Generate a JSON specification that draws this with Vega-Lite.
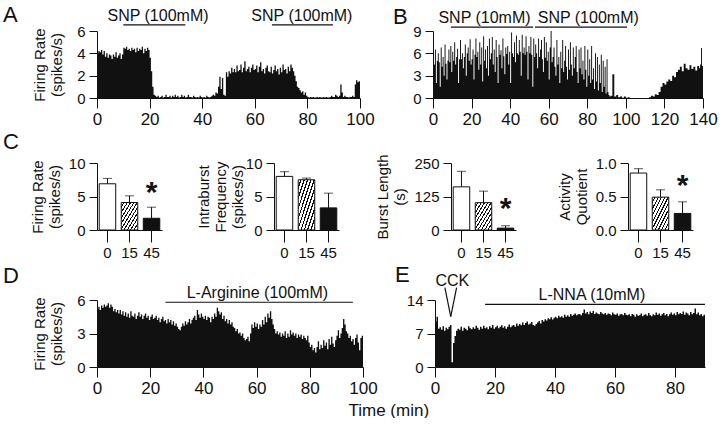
{
"$schema": "https://vega.github.io/schema/vega-lite/v6.json",
"background": "white",
"padding": {"left": 3, "top": 4, "right": 0, "bottom": 0},
"spacing": 4,
"config": {
 "font": "Liberation Sans",
 "view": {"stroke": null},
 "axis": {"grid": false, "labelOverlap": false, "labelFlush": false, "domainColor": "#111", "tickColor": "#111", "labelColor": "#111", "titleColor": "#111", "labelFont": "Liberation Sans", "titleFont": "Liberation Sans", "titleFontWeight": "normal", "titleFontSize": 15, "labelFontSize": 15, "tickSize": 8, "labelPadding": 4, "titlePadding": 6},
 "axisX": {"labelFontSize": 17, "tickSize": 10, "labelPadding": 3, "labelAngle": 0, "labelFlush": false},
 "title": {"font": "Liberation Sans", "fontWeight": "normal", "fontSize": 22, "color": "#111", "anchor": "start", "frame": "group"},
 "text": {"font": "Liberation Sans", "color": "#111"}
},
"vconcat": [
{"hconcat": [
 {"width": 263, "height": 67, "title": {"text": "A", "dx": -94, "offset": -19},
  "layer": [
   {"data": {"values": [{"t":0,"v":4.0},{"t":0.5,"v":4.2},{"t":1,"v":4.1},{"t":1.5,"v":4.3},{"t":2,"v":3.9},{"t":2.5,"v":4.2},{"t":3,"v":3.7},{"t":3.5,"v":4.0},{"t":4,"v":3.6},{"t":4.5,"v":3.9},{"t":5,"v":3.8},{"t":5.5,"v":3.5},{"t":6,"v":3.9},{"t":6.5,"v":3.7},{"t":7,"v":4.1},{"t":7.5,"v":3.6},{"t":8,"v":3.8},{"t":8.5,"v":4.0},{"t":9,"v":3.5},{"t":9.5,"v":3.9},{"t":10,"v":4.5},{"t":10.5,"v":4.4},{"t":11,"v":4.6},{"t":11.5,"v":4.3},{"t":12,"v":4.4},{"t":12.5,"v":4.2},{"t":13,"v":4.5},{"t":13.5,"v":4.3},{"t":14,"v":4.4},{"t":14.5,"v":4.1},{"t":15,"v":4.5},{"t":15.5,"v":4.2},{"t":16,"v":4.4},{"t":16.5,"v":4.3},{"t":17,"v":4.6},{"t":17.5,"v":4.0},{"t":18,"v":4.4},{"t":18.5,"v":4.2},{"t":19,"v":4.5},{"t":19.5,"v":4.3},{"t":20,"v":3.6},{"t":20.5,"v":2.4},{"t":21,"v":1.0},{"t":21.5,"v":0.3},{"t":22,"v":0.2},{"t":22.5,"v":0.1},{"t":23,"v":0.2},{"t":23.5,"v":0.05},{"t":24,"v":0.1},{"t":24.5,"v":0.2},{"t":25,"v":0.05},{"t":25.5,"v":0.1},{"t":26,"v":0.3},{"t":26.5,"v":0.1},{"t":27,"v":0.1},{"t":27.5,"v":0.2},{"t":28,"v":0.05},{"t":28.5,"v":0.2},{"t":29,"v":0.1},{"t":29.5,"v":0.3},{"t":30,"v":0.1},{"t":30.5,"v":0.2},{"t":31,"v":0.05},{"t":31.5,"v":0.1},{"t":32,"v":0.3},{"t":32.5,"v":0.1},{"t":33,"v":0.2},{"t":33.5,"v":0.05},{"t":34,"v":0.1},{"t":34.5,"v":0.3},{"t":35,"v":0.1},{"t":35.5,"v":0.1},{"t":36,"v":0.05},{"t":36.5,"v":0.2},{"t":37,"v":0.1},{"t":37.5,"v":0.05},{"t":38,"v":0.1},{"t":38.5,"v":0.05},{"t":39,"v":0.2},{"t":39.5,"v":0.1},{"t":40,"v":0.05},{"t":40.5,"v":0.1},{"t":41,"v":0.05},{"t":41.5,"v":0.2},{"t":42,"v":0.1},{"t":42.5,"v":0.05},{"t":43,"v":0.1},{"t":43.5,"v":0.2},{"t":44,"v":0.3},{"t":44.5,"v":0.2},{"t":45,"v":0.5},{"t":45.5,"v":0.4},{"t":46,"v":1.0},{"t":46.5,"v":1.9},{"t":47,"v":0.8},{"t":47.5,"v":1.8},{"t":48,"v":0.3},{"t":48.5,"v":0.2},{"t":49,"v":2.3},{"t":49.5,"v":1.9},{"t":50,"v":2.4},{"t":50.5,"v":2.2},{"t":51,"v":2.7},{"t":51.5,"v":2.3},{"t":52,"v":2.6},{"t":52.5,"v":2.3},{"t":53,"v":2.9},{"t":53.5,"v":2.4},{"t":54,"v":2.5},{"t":54.5,"v":3.0},{"t":55,"v":2.3},{"t":55.5,"v":2.7},{"t":56,"v":3.3},{"t":56.5,"v":2.4},{"t":57,"v":2.6},{"t":57.5,"v":2.8},{"t":58,"v":2.3},{"t":58.5,"v":2.7},{"t":59,"v":3.0},{"t":59.5,"v":2.5},{"t":60,"v":2.6},{"t":60.5,"v":2.9},{"t":61,"v":2.3},{"t":61.5,"v":2.8},{"t":62,"v":3.2},{"t":62.5,"v":2.4},{"t":63,"v":2.6},{"t":63.5,"v":2.2},{"t":64,"v":2.7},{"t":64.5,"v":2.9},{"t":65,"v":2.4},{"t":65.5,"v":2.3},{"t":66,"v":2.8},{"t":66.5,"v":2.2},{"t":67,"v":2.5},{"t":67.5,"v":2.9},{"t":68,"v":2.4},{"t":68.5,"v":2.6},{"t":69,"v":2.1},{"t":69.5,"v":2.7},{"t":70,"v":2.3},{"t":70.5,"v":3.0},{"t":71,"v":2.5},{"t":71.5,"v":2.6},{"t":72,"v":2.2},{"t":72.5,"v":2.8},{"t":73,"v":2.4},{"t":73.5,"v":3.0},{"t":74,"v":2.7},{"t":74.5,"v":2.4},{"t":75,"v":2.0},{"t":75.5,"v":1.5},{"t":76,"v":1.0},{"t":76.5,"v":0.9},{"t":77,"v":0.7},{"t":77.5,"v":0.5},{"t":78,"v":0.6},{"t":78.5,"v":0.3},{"t":79,"v":0.5},{"t":79.5,"v":0.2},{"t":80,"v":0.1},{"t":80.5,"v":0.05},{"t":81,"v":0.1},{"t":81.5,"v":0.05},{"t":82,"v":0.1},{"t":82.5,"v":0.05},{"t":83,"v":0.05},{"t":83.5,"v":0.1},{"t":84,"v":0.05},{"t":84.5,"v":0.1},{"t":85,"v":0.05},{"t":85.5,"v":0.05},{"t":86,"v":0.1},{"t":86.5,"v":0.05},{"t":87,"v":0.1},{"t":87.5,"v":0.05},{"t":88,"v":0.05},{"t":88.5,"v":0.1},{"t":89,"v":0.2},{"t":89.5,"v":0.1},{"t":90,"v":0.1},{"t":90.5,"v":0.3},{"t":91,"v":0.2},{"t":91.5,"v":0.1},{"t":92,"v":0.2},{"t":92.5,"v":1.2},{"t":93,"v":0.5},{"t":93.5,"v":0.1},{"t":94,"v":0.2},{"t":94.5,"v":0.1},{"t":95,"v":0.1},{"t":95.5,"v":0.05},{"t":96,"v":0.1},{"t":96.5,"v":0.1},{"t":97,"v":0.2},{"t":97.5,"v":0.1},{"t":98,"v":1.2},{"t":98.5,"v":1.6},{"t":99,"v":1.4},{"t":99.5,"v":1.5},{"t":100,"v":1.5}]},
    "mark": {"type": "area", "interpolate": "step-after", "color": "#111"},
    "encoding": {
     "x": {"field": "t", "type": "quantitative", "title": null, "scale": {"domain": [0, 100], "nice": false, "zero": false}, "axis": {"values": [0, 20, 40, 60, 80, 100], "tickCount": 20, "format": "d", "labelFlush": false}},
     "y": {"field": "v", "type": "quantitative", "title": ["Firing Rate", "(spikes/s)"], "scale": {"domain": [0, 6], "nice": false}, "axis": {"values": [0, 2, 4, 6], "tickCount": 20, "format": "d", "titlePadding": 12}}}},
   {"data": {"values": [{"a": 10, "b": 33.6, "y": 6.54}, {"a": 66.5, "b": 89.7, "y": 6.54}]},
    "mark": {"type": "rule", "color": "#111", "strokeWidth": 1.2},
    "encoding": {"x": {"field": "a", "type": "quantitative", "title": null}, "x2": {"field": "b"}, "y": {"field": "y", "type": "quantitative", "title": ["Firing Rate", "(spikes/s)"]}}},
   {"data": {"values": [{"x": 23.2, "y": 7.34, "s": "SNP (100mM)"}, {"x": 77.9, "y": 7.34, "s": "SNP (100mM)"}]},
    "mark": {"type": "text", "fontSize": 16, "baseline": "middle"},
    "encoding": {"x": {"field": "x", "type": "quantitative", "title": null}, "y": {"field": "y", "type": "quantitative", "title": ["Firing Rate", "(spikes/s)"]}, "text": {"field": "s"}}}
  ]},
 {"width": 270, "height": 67, "title": {"text": "B", "dx": -40, "offset": -19},
  "layer": [
   {"data": {"values": [{"t":0,"v":7.0},{"t":0.5,"v":4.5},{"t":1,"v":6.5},{"t":1.5,"v":2.0},{"t":2,"v":5.0},{"t":2.5,"v":6.0},{"t":3,"v":4.8},{"t":3.5,"v":1.5},{"t":4,"v":6.8},{"t":4.5,"v":4.2},{"t":5,"v":5.5},{"t":5.5,"v":3.0},{"t":6,"v":7.2},{"t":6.5,"v":4.6},{"t":7,"v":2.5},{"t":7.5,"v":5.0},{"t":8,"v":6.5},{"t":8.5,"v":4.8},{"t":9,"v":7.0},{"t":9.5,"v":3.5},{"t":10,"v":6.2},{"t":10.5,"v":5.0},{"t":11,"v":7.5},{"t":11.5,"v":4.5},{"t":12,"v":5.5},{"t":12.5,"v":6.6},{"t":13,"v":2.0},{"t":13.5,"v":5.2},{"t":14,"v":7.8},{"t":14.5,"v":5.2},{"t":15,"v":6.0},{"t":15.5,"v":4.0},{"t":16,"v":5.5},{"t":16.5,"v":7.2},{"t":17,"v":3.0},{"t":17.5,"v":6.0},{"t":18,"v":6.8},{"t":18.5,"v":5.0},{"t":19,"v":7.9},{"t":19.5,"v":4.5},{"t":20,"v":5.2},{"t":20.5,"v":6.5},{"t":21,"v":2.5},{"t":21.5,"v":5.8},{"t":22,"v":8.0},{"t":22.5,"v":5.5},{"t":23,"v":6.2},{"t":23.5,"v":3.8},{"t":24,"v":7.5},{"t":24.5,"v":4.5},{"t":25,"v":6.8},{"t":25.5,"v":2.2},{"t":26,"v":8.3},{"t":26.5,"v":5.0},{"t":27,"v":6.5},{"t":27.5,"v":4.0},{"t":28,"v":7.0},{"t":28.5,"v":3.0},{"t":29,"v":8.0},{"t":29.5,"v":5.2},{"t":30,"v":6.0},{"t":30.5,"v":8.2},{"t":31,"v":4.5},{"t":31.5,"v":6.5},{"t":32,"v":3.5},{"t":32.5,"v":7.8},{"t":33,"v":5.5},{"t":33.5,"v":2.0},{"t":34,"v":7.2},{"t":34.5,"v":5.8},{"t":35,"v":6.4},{"t":35.5,"v":4.0},{"t":36,"v":8.0},{"t":36.5,"v":5.6},{"t":37,"v":3.2},{"t":37.5,"v":6.8},{"t":38,"v":5.9},{"t":38.5,"v":7.0},{"t":39,"v":4.5},{"t":39.5,"v":6.2},{"t":40,"v":2.0},{"t":40.5,"v":8.8},{"t":41,"v":6.0},{"t":41.5,"v":5.5},{"t":42,"v":7.5},{"t":42.5,"v":4.8},{"t":43,"v":8.4},{"t":43.5,"v":6.0},{"t":44,"v":5.8},{"t":44.5,"v":7.8},{"t":45,"v":6.2},{"t":45.5,"v":3.0},{"t":46,"v":8.5},{"t":46.5,"v":6.0},{"t":47,"v":6.8},{"t":47.5,"v":5.8},{"t":48,"v":8.3},{"t":48.5,"v":6.2},{"t":49,"v":2.5},{"t":49.5,"v":7.0},{"t":50,"v":6.0},{"t":50.5,"v":8.2},{"t":51,"v":5.8},{"t":51.5,"v":1.5},{"t":52,"v":8.0},{"t":52.5,"v":5.5},{"t":53,"v":7.2},{"t":53.5,"v":6.0},{"t":54,"v":4.0},{"t":54.5,"v":8.0},{"t":55,"v":5.5},{"t":55.5,"v":6.5},{"t":56,"v":7.8},{"t":56.5,"v":5.2},{"t":57,"v":3.5},{"t":57.5,"v":8.2},{"t":58,"v":5.4},{"t":58.5,"v":7.5},{"t":59,"v":5.0},{"t":59.5,"v":6.2},{"t":60,"v":2.5},{"t":60.5,"v":6.8},{"t":61,"v":9.0},{"t":61.5,"v":4.8},{"t":62,"v":5.5},{"t":62.5,"v":6.8},{"t":63,"v":4.2},{"t":63.5,"v":3.0},{"t":64,"v":7.8},{"t":64.5,"v":4.5},{"t":65,"v":5.5},{"t":65.5,"v":2.0},{"t":66,"v":6.2},{"t":66.5,"v":4.0},{"t":67,"v":7.8},{"t":67.5,"v":3.5},{"t":68,"v":5.0},{"t":68.5,"v":7.0},{"t":69,"v":4.2},{"t":69.5,"v":2.5},{"t":70,"v":6.5},{"t":70.5,"v":3.8},{"t":71,"v":7.5},{"t":71.5,"v":4.5},{"t":72,"v":3.0},{"t":72.5,"v":6.8},{"t":73,"v":4.0},{"t":73.5,"v":5.5},{"t":74,"v":7.0},{"t":74.5,"v":3.5},{"t":75,"v":2.0},{"t":75.5,"v":6.5},{"t":76,"v":4.0},{"t":76.5,"v":6.8},{"t":77,"v":3.2},{"t":77.5,"v":5.0},{"t":78,"v":2.5},{"t":78.5,"v":7.0},{"t":79,"v":3.8},{"t":79.5,"v":1.5},{"t":80,"v":6.5},{"t":80.5,"v":3.0},{"t":81,"v":5.2},{"t":81.5,"v":2.0},{"t":82,"v":7.0},{"t":82.5,"v":2.5},{"t":83,"v":4.0},{"t":83.5,"v":1.2},{"t":84,"v":6.0},{"t":84.5,"v":2.2},{"t":85,"v":5.5},{"t":85.5,"v":1.0},{"t":86,"v":4.5},{"t":86.5,"v":2.0},{"t":87,"v":5.8},{"t":87.5,"v":0.8},{"t":88,"v":5.0},{"t":88.5,"v":1.5},{"t":89,"v":4.2},{"t":89.5,"v":0.6},{"t":90,"v":5.2},{"t":90.5,"v":0.8},{"t":91,"v":0.4},{"t":91.5,"v":0.2},{"t":92,"v":0.3},{"t":93,"v":3.2},{"t":94,"v":0.2},{"t":95,"v":0.4},{"t":96,"v":0.1},{"t":97,"v":0.2},{"t":98,"v":0.05},{"t":99,"v":0.2},{"t":100,"v":0.05},{"t":101,"v":0.1},{"t":102,"v":0},{"t":112,"v":0.1},{"t":113,"v":0.3},{"t":114,"v":0.2},{"t":115,"v":0.5},{"t":116,"v":0.4},{"t":117,"v":0.8},{"t":118,"v":1.5},{"t":119,"v":2.0},{"t":120,"v":1.8},{"t":121,"v":2.2},{"t":122,"v":2.5},{"t":123,"v":2.3},{"t":124,"v":3.0},{"t":125,"v":2.8},{"t":126,"v":3.5},{"t":127,"v":3.8},{"t":128,"v":4.2},{"t":129,"v":3.6},{"t":130,"v":4.6},{"t":131,"v":4.0},{"t":132,"v":3.8},{"t":133,"v":4.4},{"t":134,"v":3.9},{"t":135,"v":4.2},{"t":136,"v":3.7},{"t":137,"v":4.3},{"t":138,"v":4.0},{"t":138.5,"v":4.5},{"t":139,"v":6.7},{"t":139.5,"v":4.3},{"t":140,"v":4.3}]},
    "mark": {"type": "area", "interpolate": "step-after", "color": "#111"},
    "encoding": {
     "x": {"field": "t", "type": "quantitative", "title": null, "scale": {"domain": [0, 140], "nice": false, "zero": false}, "axis": {"values": [0, 20, 40, 60, 80, 100, 120, 140], "tickCount": 20, "format": "d", "labelFlush": false}},
     "y": {"field": "v", "type": "quantitative", "title": null, "scale": {"domain": [0, 9], "nice": false}, "axis": {"values": [0, 3, 6, 9], "tickCount": 20, "format": "d"}}}},
   {"data": {"values": [{"a": 9.3, "b": 51.9, "y": 9.53}, {"a": 52.9, "b": 100.6, "y": 9.53}]},
    "mark": {"type": "rule", "color": "#111", "strokeWidth": 1.2},
    "encoding": {"x": {"field": "a", "type": "quantitative", "title": null}, "x2": {"field": "b"}, "y": {"field": "y", "type": "quantitative", "title": null}}},
   {"data": {"values": [{"x": 26.7, "y": 10.7, "s": "SNP (10mM)"}, {"x": 80.5, "y": 10.7, "s": "SNP (100mM)"}]},
    "mark": {"type": "text", "fontSize": 16, "baseline": "middle"},
    "encoding": {"x": {"field": "x", "type": "quantitative", "title": null}, "y": {"field": "y", "type": "quantitative", "title": null}, "text": {"field": "s"}}}
  ]}
], "spacing": 73, "bounds": "flush"},
{"hconcat": [
 {"width": 65, "height": 67, "title": {"text": "C", "dx": -94, "offset": 2},
  "data": {"values": [{"g": "0", "m": 6.9, "e": 7.7}, {"g": "15", "m": 4.1, "e": 5.1}, {"g": "45", "m": 1.75, "e": 3.4, "s": "*", "sy": 4.2}]},
  "encoding": {"x": {"field": "g", "type": "ordinal", "sort": null, "title": null, "scale": {"paddingInner": 0.25, "paddingOuter": 0.1}, "axis": {"labelFontSize": 15, "tickSize": 12, "labelPadding": 3}}},
  "layer": [
   {"mark": {"type": "rule", "color": "#111"}, "encoding": {"y": {"field": "m", "type": "quantitative", "title": ["Firing Rate", "(spikes/s)"]}, "y2": {"field": "e"}}},
   {"mark": {"type": "tick", "size": 9, "thickness": 1, "color": "#111"}, "encoding": {"y": {"field": "e", "type": "quantitative", "title": ["Firing Rate", "(spikes/s)"]}}},
   {"mark": {"type": "bar", "stroke": "#111", "strokeWidth": 1},
    "encoding": {"y": {"field": "m", "type": "quantitative", "title": ["Firing Rate", "(spikes/s)"], "scale": {"domain": [0, 10], "nice": false}, "axis": {"values": [0, 5, 10], "tickCount": 20, "format": "d"}},
     "fill": {"condition": [{"test": "datum.g === '0'", "value": "white"}, {"test": "datum.g === '15'", "value": {"gradient": "linear", "x1": 0, "y1": 0, "x2": 1, "y2": 1, "stops": [{"offset":0,"color":"white"},{"offset":0.065,"color":"white"},{"offset":0.065,"color":"#111"},{"offset":0.1,"color":"#111"},{"offset":0.1,"color":"white"},{"offset":0.165,"color":"white"},{"offset":0.165,"color":"#111"},{"offset":0.2,"color":"#111"},{"offset":0.2,"color":"white"},{"offset":0.265,"color":"white"},{"offset":0.265,"color":"#111"},{"offset":0.3,"color":"#111"},{"offset":0.3,"color":"white"},{"offset":0.365,"color":"white"},{"offset":0.365,"color":"#111"},{"offset":0.4,"color":"#111"},{"offset":0.4,"color":"white"},{"offset":0.465,"color":"white"},{"offset":0.465,"color":"#111"},{"offset":0.5,"color":"#111"},{"offset":0.5,"color":"white"},{"offset":0.565,"color":"white"},{"offset":0.565,"color":"#111"},{"offset":0.6,"color":"#111"},{"offset":0.6,"color":"white"},{"offset":0.665,"color":"white"},{"offset":0.665,"color":"#111"},{"offset":0.7,"color":"#111"},{"offset":0.7,"color":"white"},{"offset":0.765,"color":"white"},{"offset":0.765,"color":"#111"},{"offset":0.8,"color":"#111"},{"offset":0.8,"color":"white"},{"offset":0.865,"color":"white"},{"offset":0.865,"color":"#111"},{"offset":0.9,"color":"#111"},{"offset":0.9,"color":"white"},{"offset":0.965,"color":"white"},{"offset":0.965,"color":"#111"},{"offset":1,"color":"#111"}]}}], "value": "#111"}}},
   {"transform": [{"filter": "datum.s"}], "mark": {"type": "text", "fontSize": 30, "fontWeight": "bold", "baseline": "alphabetic"}, "encoding": {"y": {"field": "sy", "type": "quantitative", "title": ["Firing Rate", "(spikes/s)"]}, "text": {"field": "s"}}}
  ]},
 {"width": 65, "height": 67,
  "data": {"values": [{"g": "0", "m": 8.0, "e": 8.7}, {"g": "15", "m": 7.5, "e": 7.75}, {"g": "45", "m": 3.3, "e": 5.5}]},
  "encoding": {"x": {"field": "g", "type": "ordinal", "sort": null, "title": null, "scale": {"paddingInner": 0.25, "paddingOuter": 0.1}, "axis": {"labelFontSize": 15, "tickSize": 12, "labelPadding": 3}}},
  "layer": [
   {"mark": {"type": "rule", "color": "#111"}, "encoding": {"y": {"field": "m", "type": "quantitative", "title": ["Intraburst", "Frequency", "(spikes/s)"]}, "y2": {"field": "e"}}},
   {"mark": {"type": "tick", "size": 9, "thickness": 1, "color": "#111"}, "encoding": {"y": {"field": "e", "type": "quantitative", "title": ["Intraburst", "Frequency", "(spikes/s)"]}}},
   {"mark": {"type": "bar", "stroke": "#111", "strokeWidth": 1},
    "encoding": {"y": {"field": "m", "type": "quantitative", "title": ["Intraburst", "Frequency", "(spikes/s)"], "scale": {"domain": [0, 10], "nice": false}, "axis": {"values": [0, 5, 10], "tickCount": 20, "format": "d", "titlePadding": 0}},
     "fill": {"condition": [{"test": "datum.g === '0'", "value": "white"}, {"test": "datum.g === '15'", "value": {"gradient": "linear", "x1": 0, "y1": 0, "x2": 1, "y2": 1, "stops": [{"offset":0,"color":"white"},{"offset":0.065,"color":"white"},{"offset":0.065,"color":"#111"},{"offset":0.1,"color":"#111"},{"offset":0.1,"color":"white"},{"offset":0.165,"color":"white"},{"offset":0.165,"color":"#111"},{"offset":0.2,"color":"#111"},{"offset":0.2,"color":"white"},{"offset":0.265,"color":"white"},{"offset":0.265,"color":"#111"},{"offset":0.3,"color":"#111"},{"offset":0.3,"color":"white"},{"offset":0.365,"color":"white"},{"offset":0.365,"color":"#111"},{"offset":0.4,"color":"#111"},{"offset":0.4,"color":"white"},{"offset":0.465,"color":"white"},{"offset":0.465,"color":"#111"},{"offset":0.5,"color":"#111"},{"offset":0.5,"color":"white"},{"offset":0.565,"color":"white"},{"offset":0.565,"color":"#111"},{"offset":0.6,"color":"#111"},{"offset":0.6,"color":"white"},{"offset":0.665,"color":"white"},{"offset":0.665,"color":"#111"},{"offset":0.7,"color":"#111"},{"offset":0.7,"color":"white"},{"offset":0.765,"color":"white"},{"offset":0.765,"color":"#111"},{"offset":0.8,"color":"#111"},{"offset":0.8,"color":"white"},{"offset":0.865,"color":"white"},{"offset":0.865,"color":"#111"},{"offset":0.9,"color":"#111"},{"offset":0.9,"color":"white"},{"offset":0.965,"color":"white"},{"offset":0.965,"color":"#111"},{"offset":1,"color":"#111"}]}}], "value": "#111"}}}
  ]},
 {"width": 65, "height": 67,
  "data": {"values": [{"g": "0", "m": 161, "e": 219}, {"g": "15", "m": 102, "e": 145}, {"g": "45", "m": 7, "e": 16, "s": "*", "sy": 46}]},
  "encoding": {"x": {"field": "g", "type": "ordinal", "sort": null, "title": null, "scale": {"paddingInner": 0.25, "paddingOuter": 0.1}, "axis": {"labelFontSize": 15, "tickSize": 12, "labelPadding": 3}}},
  "layer": [
   {"mark": {"type": "rule", "color": "#111"}, "encoding": {"y": {"field": "m", "type": "quantitative", "title": ["Burst Length", "(s)"]}, "y2": {"field": "e"}}},
   {"mark": {"type": "tick", "size": 9, "thickness": 1, "color": "#111"}, "encoding": {"y": {"field": "e", "type": "quantitative", "title": ["Burst Length", "(s)"]}}},
   {"mark": {"type": "bar", "stroke": "#111", "strokeWidth": 1},
    "encoding": {"y": {"field": "m", "type": "quantitative", "title": ["Burst Length", "(s)"], "scale": {"domain": [0, 250], "nice": false}, "axis": {"values": [0, 125, 250], "tickCount": 20, "format": "d"}},
     "fill": {"condition": [{"test": "datum.g === '0'", "value": "white"}, {"test": "datum.g === '15'", "value": {"gradient": "linear", "x1": 0, "y1": 0, "x2": 1, "y2": 1, "stops": [{"offset":0,"color":"white"},{"offset":0.065,"color":"white"},{"offset":0.065,"color":"#111"},{"offset":0.1,"color":"#111"},{"offset":0.1,"color":"white"},{"offset":0.165,"color":"white"},{"offset":0.165,"color":"#111"},{"offset":0.2,"color":"#111"},{"offset":0.2,"color":"white"},{"offset":0.265,"color":"white"},{"offset":0.265,"color":"#111"},{"offset":0.3,"color":"#111"},{"offset":0.3,"color":"white"},{"offset":0.365,"color":"white"},{"offset":0.365,"color":"#111"},{"offset":0.4,"color":"#111"},{"offset":0.4,"color":"white"},{"offset":0.465,"color":"white"},{"offset":0.465,"color":"#111"},{"offset":0.5,"color":"#111"},{"offset":0.5,"color":"white"},{"offset":0.565,"color":"white"},{"offset":0.565,"color":"#111"},{"offset":0.6,"color":"#111"},{"offset":0.6,"color":"white"},{"offset":0.665,"color":"white"},{"offset":0.665,"color":"#111"},{"offset":0.7,"color":"#111"},{"offset":0.7,"color":"white"},{"offset":0.765,"color":"white"},{"offset":0.765,"color":"#111"},{"offset":0.8,"color":"#111"},{"offset":0.8,"color":"white"},{"offset":0.865,"color":"white"},{"offset":0.865,"color":"#111"},{"offset":0.9,"color":"#111"},{"offset":0.9,"color":"white"},{"offset":0.965,"color":"white"},{"offset":0.965,"color":"#111"},{"offset":1,"color":"#111"}]}}], "value": "#111"}}},
   {"transform": [{"filter": "datum.s"}], "mark": {"type": "text", "fontSize": 30, "fontWeight": "bold", "baseline": "alphabetic"}, "encoding": {"y": {"field": "sy", "type": "quantitative", "title": ["Burst Length", "(s)"]}, "text": {"field": "s"}}}
  ]},
 {"width": 65, "height": 67,
  "data": {"values": [{"g": "0", "m": 0.85, "e": 0.915}, {"g": "15", "m": 0.49, "e": 0.6}, {"g": "45", "m": 0.247, "e": 0.42, "s": "*", "sy": 0.52}]},
  "encoding": {"x": {"field": "g", "type": "ordinal", "sort": null, "title": null, "scale": {"paddingInner": 0.25, "paddingOuter": 0.1}, "axis": {"labelFontSize": 15, "tickSize": 12, "labelPadding": 3}}},
  "layer": [
   {"mark": {"type": "rule", "color": "#111"}, "encoding": {"y": {"field": "m", "type": "quantitative", "title": ["Activity", "Quotient"]}, "y2": {"field": "e"}}},
   {"mark": {"type": "tick", "size": 9, "thickness": 1, "color": "#111"}, "encoding": {"y": {"field": "e", "type": "quantitative", "title": ["Activity", "Quotient"]}}},
   {"mark": {"type": "bar", "stroke": "#111", "strokeWidth": 1},
    "encoding": {"y": {"field": "m", "type": "quantitative", "title": ["Activity", "Quotient"], "scale": {"domain": [0, 1], "nice": false}, "axis": {"values": [0, 0.5, 1], "tickCount": 20, "format": ".1f"}},
     "fill": {"condition": [{"test": "datum.g === '0'", "value": "white"}, {"test": "datum.g === '15'", "value": {"gradient": "linear", "x1": 0, "y1": 0, "x2": 1, "y2": 1, "stops": [{"offset":0,"color":"white"},{"offset":0.065,"color":"white"},{"offset":0.065,"color":"#111"},{"offset":0.1,"color":"#111"},{"offset":0.1,"color":"white"},{"offset":0.165,"color":"white"},{"offset":0.165,"color":"#111"},{"offset":0.2,"color":"#111"},{"offset":0.2,"color":"white"},{"offset":0.265,"color":"white"},{"offset":0.265,"color":"#111"},{"offset":0.3,"color":"#111"},{"offset":0.3,"color":"white"},{"offset":0.365,"color":"white"},{"offset":0.365,"color":"#111"},{"offset":0.4,"color":"#111"},{"offset":0.4,"color":"white"},{"offset":0.465,"color":"white"},{"offset":0.465,"color":"#111"},{"offset":0.5,"color":"#111"},{"offset":0.5,"color":"white"},{"offset":0.565,"color":"white"},{"offset":0.565,"color":"#111"},{"offset":0.6,"color":"#111"},{"offset":0.6,"color":"white"},{"offset":0.665,"color":"white"},{"offset":0.665,"color":"#111"},{"offset":0.7,"color":"#111"},{"offset":0.7,"color":"white"},{"offset":0.765,"color":"white"},{"offset":0.765,"color":"#111"},{"offset":0.8,"color":"#111"},{"offset":0.8,"color":"white"},{"offset":0.865,"color":"white"},{"offset":0.865,"color":"#111"},{"offset":0.9,"color":"#111"},{"offset":0.9,"color":"white"},{"offset":0.965,"color":"white"},{"offset":0.965,"color":"#111"},{"offset":1,"color":"#111"}]}}], "value": "#111"}}},
   {"transform": [{"filter": "datum.s"}], "mark": {"type": "text", "fontSize": 30, "fontWeight": "bold", "baseline": "alphabetic"}, "encoding": {"y": {"field": "sy", "type": "quantitative", "title": ["Activity", "Quotient"]}, "text": {"field": "s"}}}
  ]}
], "spacing": 112, "bounds": "flush"},
{"hconcat": [
 {"width": 266, "height": 67, "title": {"text": "D", "dx": -94, "offset": -3},
  "layer": [
   {"data": {"values": [{"t":0,"v":5.2},{"t":0.5,"v":5.4},{"t":1,"v":5.1},{"t":1.5,"v":5.5},{"t":2,"v":5.3},{"t":2.5,"v":5.6},{"t":3,"v":5.4},{"t":3.5,"v":5.5},{"t":4,"v":5.7},{"t":4.5,"v":5.3},{"t":5,"v":5.6},{"t":5.5,"v":5.4},{"t":6,"v":5.0},{"t":6.5,"v":5.2},{"t":7,"v":4.9},{"t":7.5,"v":5.1},{"t":8,"v":4.8},{"t":8.5,"v":5.1},{"t":9,"v":4.7},{"t":9.5,"v":5.0},{"t":10,"v":4.6},{"t":10.5,"v":4.9},{"t":11,"v":4.5},{"t":11.5,"v":4.8},{"t":12,"v":4.4},{"t":12.5,"v":5.0},{"t":13,"v":4.6},{"t":13.5,"v":4.5},{"t":14,"v":4.8},{"t":14.5,"v":4.3},{"t":15,"v":4.6},{"t":15.5,"v":4.9},{"t":16,"v":4.5},{"t":16.5,"v":4.7},{"t":17,"v":4.3},{"t":17.5,"v":4.6},{"t":18,"v":4.8},{"t":18.5,"v":4.4},{"t":19,"v":4.6},{"t":19.5,"v":4.2},{"t":20,"v":4.5},{"t":20.5,"v":4.7},{"t":21,"v":4.3},{"t":21.5,"v":4.4},{"t":22,"v":4.6},{"t":22.5,"v":4.2},{"t":23,"v":4.4},{"t":23.5,"v":4.0},{"t":24,"v":4.3},{"t":24.5,"v":4.5},{"t":25,"v":4.1},{"t":25.5,"v":4.2},{"t":26,"v":3.9},{"t":26.5,"v":4.3},{"t":27,"v":4.0},{"t":27.5,"v":4.2},{"t":28,"v":3.8},{"t":28.5,"v":4.1},{"t":29,"v":3.7},{"t":29.5,"v":3.9},{"t":30,"v":3.6},{"t":30.5,"v":3.4},{"t":31,"v":3.3},{"t":31.5,"v":3.6},{"t":32,"v":3.9},{"t":32.5,"v":3.7},{"t":33,"v":4.1},{"t":33.5,"v":3.8},{"t":34,"v":4.0},{"t":34.5,"v":4.3},{"t":35,"v":3.9},{"t":35.5,"v":4.2},{"t":36,"v":4.4},{"t":36.5,"v":4.6},{"t":37,"v":4.2},{"t":37.5,"v":5.1},{"t":38,"v":4.7},{"t":38.5,"v":4.4},{"t":39,"v":4.8},{"t":39.5,"v":4.5},{"t":40,"v":4.3},{"t":40.5,"v":4.6},{"t":41,"v":4.2},{"t":41.5,"v":4.5},{"t":42,"v":4.4},{"t":42.5,"v":4.0},{"t":43,"v":4.5},{"t":43.5,"v":4.3},{"t":44,"v":4.8},{"t":44.5,"v":4.5},{"t":45,"v":5.3},{"t":45.5,"v":5.0},{"t":46,"v":4.7},{"t":46.5,"v":4.9},{"t":47,"v":4.3},{"t":47.5,"v":4.6},{"t":48,"v":4.1},{"t":48.5,"v":4.3},{"t":49,"v":3.9},{"t":49.5,"v":4.2},{"t":50,"v":3.8},{"t":50.5,"v":4.0},{"t":51,"v":3.6},{"t":51.5,"v":3.5},{"t":52,"v":3.2},{"t":52.5,"v":3.4},{"t":53,"v":3.0},{"t":53.5,"v":3.1},{"t":54,"v":2.8},{"t":54.5,"v":3.0},{"t":55,"v":2.6},{"t":55.5,"v":2.4},{"t":56,"v":2.5},{"t":56.5,"v":2.7},{"t":57,"v":2.3},{"t":57.5,"v":3.0},{"t":58,"v":3.8},{"t":58.5,"v":3.5},{"t":59,"v":4.0},{"t":59.5,"v":3.6},{"t":60,"v":3.9},{"t":60.5,"v":3.4},{"t":61,"v":3.8},{"t":61.5,"v":3.6},{"t":62,"v":4.2},{"t":62.5,"v":3.8},{"t":63,"v":4.5},{"t":63.5,"v":4.0},{"t":64,"v":4.8},{"t":64.5,"v":4.4},{"t":65,"v":5.0},{"t":65.5,"v":4.3},{"t":66,"v":3.8},{"t":66.5,"v":3.4},{"t":67,"v":3.0},{"t":67.5,"v":3.2},{"t":68,"v":2.9},{"t":68.5,"v":3.1},{"t":69,"v":2.7},{"t":69.5,"v":3.0},{"t":70,"v":2.8},{"t":70.5,"v":3.2},{"t":71,"v":2.6},{"t":71.5,"v":3.0},{"t":72,"v":2.7},{"t":72.5,"v":3.3},{"t":73,"v":2.9},{"t":73.5,"v":3.1},{"t":74,"v":2.8},{"t":74.5,"v":3.0},{"t":75,"v":2.6},{"t":75.5,"v":2.9},{"t":76,"v":2.7},{"t":76.5,"v":2.9},{"t":77,"v":2.5},{"t":77.5,"v":2.8},{"t":78,"v":2.6},{"t":78.5,"v":2.4},{"t":79,"v":2.8},{"t":79.5,"v":2.2},{"t":80,"v":1.8},{"t":80.5,"v":2.0},{"t":81,"v":1.5},{"t":81.5,"v":1.7},{"t":82,"v":1.3},{"t":82.5,"v":1.8},{"t":83,"v":2.3},{"t":83.5,"v":1.6},{"t":84,"v":2.0},{"t":84.5,"v":1.7},{"t":85,"v":2.4},{"t":85.5,"v":1.9},{"t":86,"v":2.2},{"t":86.5,"v":1.6},{"t":87,"v":2.5},{"t":87.5,"v":2.0},{"t":88,"v":2.7},{"t":88.5,"v":2.1},{"t":89,"v":1.8},{"t":89.5,"v":2.4},{"t":90,"v":2.8},{"t":90.5,"v":3.3},{"t":91,"v":2.6},{"t":91.5,"v":3.0},{"t":92,"v":3.5},{"t":92.5,"v":4.3},{"t":93,"v":3.8},{"t":93.5,"v":3.2},{"t":94,"v":3.0},{"t":94.5,"v":2.6},{"t":95,"v":2.8},{"t":95.5,"v":2.3},{"t":96,"v":2.5},{"t":96.5,"v":2.0},{"t":97,"v":2.6},{"t":97.5,"v":2.9},{"t":98,"v":2.2},{"t":98.5,"v":1.5},{"t":99,"v":2.6},{"t":99.5,"v":2.8},{"t":100,"v":2.8}]},
    "mark": {"type": "area", "interpolate": "step-after", "color": "#111"},
    "encoding": {
     "x": {"field": "t", "type": "quantitative", "title": "Time (min)", "scale": {"domain": [0, 100], "nice": false, "zero": false}, "axis": {"values": [0, 20, 40, 60, 80, 100], "tickCount": 20, "format": "d", "labelFlush": false, "titleX": 251, "titleAlign": "left", "titleFontSize": 17, "titlePadding": 6}},
     "y": {"field": "v", "type": "quantitative", "title": ["Firing Rate", "(spikes/s)"], "scale": {"domain": [0, 6], "nice": false}, "axis": {"values": [0, 3, 6], "tickCount": 20, "format": "d", "titlePadding": 12}}}},
   {"data": {"values": [{"a": 25.7, "b": 96.2, "y": 5.8}]},
    "mark": {"type": "rule", "color": "#111", "strokeWidth": 1.2},
    "encoding": {"x": {"field": "a", "type": "quantitative", "title": "Time (min)"}, "x2": {"field": "b"}, "y": {"field": "y", "type": "quantitative", "title": ["Firing Rate", "(spikes/s)"]}}},
   {"data": {"values": [{"x": 60.3, "y": 6.6, "s": "L-Arginine (100mM)"}]},
    "mark": {"type": "text", "fontSize": 16, "baseline": "middle"},
    "encoding": {"x": {"field": "x", "type": "quantitative", "title": "Time (min)"}, "y": {"field": "y", "type": "quantitative", "title": ["Firing Rate", "(spikes/s)"]}, "text": {"field": "s"}}}
  ]},
 {"width": 270, "height": 67, "title": {"text": "E", "dx": -40, "offset": -14},
  "layer": [
   {"data": {"values": [{"t":0,"v":9.5},{"t":0.5,"v":10.5},{"t":1,"v":8.0},{"t":1.5,"v":8.3},{"t":2,"v":7.8},{"t":2.5,"v":8.5},{"t":3,"v":7.6},{"t":3.5,"v":8.2},{"t":4,"v":7.9},{"t":4.5,"v":8.4},{"t":5,"v":8.8},{"t":5.5,"v":1.0},{"t":6,"v":5.0},{"t":6.5,"v":6.5},{"t":7,"v":7.6},{"t":7.5,"v":8.0},{"t":8,"v":7.8},{"t":8.5,"v":8.4},{"t":9,"v":7.6},{"t":9.5,"v":8.2},{"t":10,"v":8.0},{"t":10.5,"v":7.7},{"t":11,"v":8.5},{"t":11.5,"v":8.1},{"t":12,"v":7.9},{"t":12.5,"v":8.3},{"t":13,"v":8.0},{"t":13.5,"v":8.6},{"t":14,"v":8.2},{"t":14.5,"v":7.8},{"t":15,"v":8.4},{"t":15.5,"v":8.0},{"t":16,"v":8.6},{"t":16.5,"v":8.1},{"t":17,"v":8.3},{"t":17.5,"v":7.9},{"t":18,"v":8.5},{"t":18.5,"v":8.2},{"t":19,"v":8.8},{"t":19.5,"v":8.0},{"t":20,"v":8.3},{"t":20.5,"v":8.6},{"t":21,"v":8.1},{"t":21.5,"v":8.4},{"t":22,"v":8.7},{"t":22.5,"v":8.2},{"t":23,"v":8.5},{"t":23.5,"v":8.0},{"t":24,"v":8.4},{"t":24.5,"v":8.9},{"t":25,"v":8.3},{"t":25.5,"v":8.6},{"t":26,"v":8.8},{"t":26.5,"v":8.4},{"t":27,"v":9.1},{"t":27.5,"v":8.6},{"t":28,"v":9.0},{"t":28.5,"v":8.7},{"t":29,"v":9.3},{"t":29.5,"v":8.8},{"t":30,"v":9.2},{"t":30.5,"v":9.5},{"t":31,"v":8.9},{"t":31.5,"v":9.1},{"t":32,"v":9.4},{"t":32.5,"v":8.8},{"t":33,"v":8.6},{"t":33.5,"v":9.0},{"t":34,"v":9.3},{"t":34.5,"v":9.6},{"t":35,"v":9.1},{"t":35.5,"v":9.8},{"t":36,"v":9.5},{"t":36.5,"v":10.0},{"t":37,"v":9.7},{"t":37.5,"v":10.2},{"t":38,"v":10.0},{"t":38.5,"v":10.4},{"t":39,"v":9.9},{"t":39.5,"v":10.3},{"t":40,"v":10.5},{"t":40.5,"v":10.2},{"t":41,"v":10.7},{"t":41.5,"v":10.4},{"t":42,"v":10.6},{"t":42.5,"v":10.3},{"t":43,"v":10.9},{"t":43.5,"v":10.5},{"t":44,"v":10.8},{"t":44.5,"v":10.5},{"t":45,"v":11.1},{"t":45.5,"v":10.7},{"t":46,"v":10.9},{"t":46.5,"v":11.2},{"t":47,"v":10.8},{"t":47.5,"v":11.0},{"t":48,"v":11.1},{"t":48.5,"v":10.8},{"t":49,"v":11.3},{"t":49.5,"v":12.0},{"t":50,"v":11.2},{"t":50.5,"v":11.5},{"t":51,"v":11.0},{"t":51.5,"v":11.6},{"t":52,"v":11.3},{"t":52.5,"v":11.7},{"t":53,"v":11.1},{"t":53.5,"v":11.4},{"t":54,"v":11.2},{"t":54.5,"v":11.0},{"t":55,"v":11.5},{"t":55.5,"v":11.2},{"t":56,"v":11.0},{"t":56.5,"v":11.3},{"t":57,"v":10.9},{"t":57.5,"v":11.2},{"t":58,"v":11.1},{"t":58.5,"v":10.8},{"t":59,"v":11.4},{"t":59.5,"v":11.0},{"t":60,"v":10.9},{"t":60.5,"v":11.2},{"t":61,"v":10.7},{"t":61.5,"v":11.0},{"t":62,"v":11.1},{"t":62.5,"v":10.8},{"t":63,"v":11.3},{"t":63.5,"v":10.9},{"t":64,"v":10.8},{"t":64.5,"v":11.0},{"t":65,"v":10.6},{"t":65.5,"v":11.1},{"t":66,"v":10.9},{"t":66.5,"v":10.5},{"t":67,"v":11.0},{"t":67.5,"v":10.7},{"t":68,"v":10.8},{"t":68.5,"v":11.2},{"t":69,"v":10.6},{"t":69.5,"v":10.9},{"t":70,"v":11.0},{"t":70.5,"v":10.7},{"t":71,"v":11.3},{"t":71.5,"v":10.8},{"t":72,"v":10.6},{"t":72.5,"v":11.0},{"t":73,"v":10.8},{"t":73.5,"v":11.4},{"t":74,"v":10.9},{"t":74.5,"v":11.2},{"t":75,"v":10.7},{"t":75.5,"v":11.0},{"t":76,"v":11.3},{"t":76.5,"v":10.8},{"t":77,"v":11.1},{"t":77.5,"v":10.6},{"t":78,"v":11.0},{"t":78.5,"v":11.4},{"t":79,"v":10.9},{"t":79.5,"v":11.2},{"t":80,"v":10.8},{"t":80.5,"v":11.5},{"t":81,"v":11.0},{"t":81.5,"v":11.3},{"t":82,"v":11.1},{"t":82.5,"v":11.6},{"t":83,"v":10.9},{"t":83.5,"v":11.4},{"t":84,"v":11.2},{"t":84.5,"v":10.8},{"t":85,"v":11.5},{"t":85.5,"v":11.0},{"t":86,"v":11.3},{"t":86.5,"v":12.2},{"t":87,"v":11.0},{"t":87.5,"v":11.4},{"t":88,"v":10.8},{"t":88.5,"v":11.1},{"t":89,"v":10.6},{"t":89.5,"v":10.9},{"t":90,"v":10.9}]},
    "mark": {"type": "area", "interpolate": "step-after", "color": "#111"},
    "encoding": {
     "x": {"field": "t", "type": "quantitative", "title": null, "scale": {"domain": [0, 90], "nice": false, "zero": false}, "axis": {"values": [0, 20, 40, 60, 80], "tickCount": 20, "format": "d", "labelFlush": false}},
     "y": {"field": "v", "type": "quantitative", "title": null, "scale": {"domain": [0, 14], "nice": false}, "axis": {"values": [0, 7, 14], "tickCount": 20, "format": "d"}}}},
   {"data": {"values": [{"a": 16.7, "b": 90, "y": 13.1, "y2": 13.1}, {"a": 3.3, "b": 5.25, "y": 16.6, "y2": 10.55}, {"a": 7.2, "b": 5.25, "y": 16.6, "y2": 10.55}]},
    "mark": {"type": "rule", "color": "#111", "strokeWidth": 1.2},
    "encoding": {"x": {"field": "a", "type": "quantitative", "title": null}, "x2": {"field": "b"}, "y": {"field": "y", "type": "quantitative", "title": null}, "y2": {"field": "y2"}}},
   {"data": {"values": [{"x": 52.3, "y": 15.0, "s": "L-NNA (10mM)"}, {"x": 5.8, "y": 17.9, "s": "CCK"}]},
    "mark": {"type": "text", "fontSize": 16, "baseline": "middle"},
    "encoding": {"x": {"field": "x", "type": "quantitative", "title": null}, "y": {"field": "y", "type": "quantitative", "title": null}, "text": {"field": "s"}}}
  ]}
], "spacing": 72, "bounds": "flush"}
]
}
